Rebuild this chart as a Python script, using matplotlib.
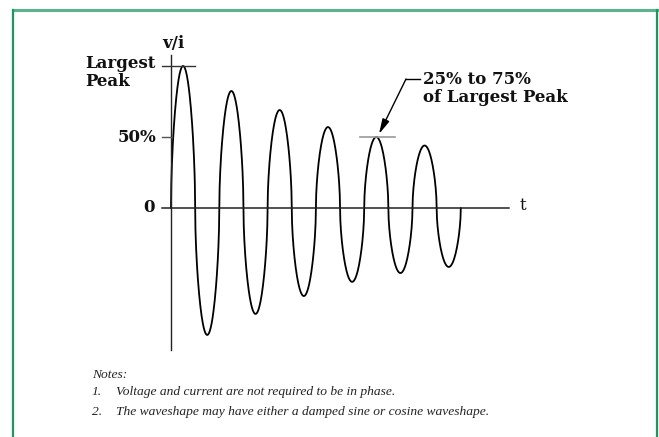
import numpy as np
import matplotlib
matplotlib.use("Agg")
import matplotlib.pyplot as plt
from matplotlib.lines import Line2D

#peak and trough heights, in % of the largest peak, one per cycle
peaks=[100,82.4,69,57,50,44]
troughs=[-89.4,-74.6,-62,-52,-45.8,-41.5]
ytick_vals=[100,50,0]
ytick_labels=["Largest\nPeak","50%","0"]
notes=["Voltage and current are not required to be in phase.",
       "The waveshape may have either a damped sine or cosine waveshape."]

#pixel mapping of the drawing (origin at px 171,208)
W,H=659,437
x0,y0=171,208
ppc=48.3     #px per cycle
ppp=1.42     #px per percent

def dx(px):
    return (px-x0)/ppc
def dy(py):
    return (y0-py)/ppp

fig=plt.figure(figsize=(W/100,H/100),dpi=100)
ax=fig.add_axes([0,0,1,1])
ax.set_xlim(dx(0),dx(W))
ax.set_ylim(dy(H),dy(0))
ax.set_axis_off()

#green frame
fig.add_artist(Line2D([13/W,657/W],[1-9.5/H,1-9.5/H],color="#5ab58a",lw=2.2))
fig.add_artist(Line2D([13/W,13/W],[0,1-9.5/H],color="#1a9a5a",lw=1.6))
fig.add_artist(Line2D([657/W,657/W],[0,1-9.5/H],color="#1a9a5a",lw=1.6))

#waveform: each half cycle is a rounded lobe with its own height
t_all=[]
v_all=[]
for i in range(len(peaks)):
    for half,amp in ((0,peaks[i]),(1,troughs[i])):
        tt=np.linspace(0,0.5,80)
        t_all.append(i+half*0.5+tt)
        v_all.append(amp*np.abs(np.sin(2*np.pi*tt))**0.55)
t_all=np.concatenate(t_all)
v_all=np.concatenate(v_all)
ax.plot(t_all,v_all,color="black",lw=1.3,solid_capstyle="round")

#axes
ax.plot([0,0],[-100,dy(55)],color="#222222",lw=1.0)
ax.plot([dx(162),dx(509)],[0,0],color="#222222",lw=1.1)
ax.plot([dx(162),dx(195)],[100,100],color="#333333",lw=1.0)
ax.plot([dx(162),dx(172)],[50,50],color="#555555",lw=1.0)
ax.plot([dx(360),dx(395)],[peaks[4],peaks[4]],color="#999999",lw=1.2)

mono=dict(family="DejaVu Serif",weight="bold",fontsize=12,color="#111111")
ax.text(dx(173),dy(43),"v/i",ha="center",va="center",**mono)
ax.text(dx(85),dy(64),"Largest",ha="left",va="center",**mono)
ax.text(dx(85),dy(82),"Peak",ha="left",va="center",**mono)
ax.text(dx(156),ytick_vals[1],ytick_labels[1],ha="right",va="center",**mono)
ax.text(dx(155),ytick_vals[2],ytick_labels[2],ha="right",va="center",**mono)
ax.text(dx(520),dy(206),"t",ha="left",va="center",**{**mono,"weight":"normal"})

#callout
ax.text(dx(423),dy(79),"25% to 75%",ha="left",va="center",**mono)
ax.text(dx(423),dy(97),"of Largest Peak",ha="left",va="center",**mono)
ax.plot([dx(406),dx(420)],[dy(79)]*2,color="black",lw=1.0)
ax.annotate("",xy=(dx(379),dy(134)),xytext=(dx(406),dy(79)),
            arrowprops=dict(arrowstyle="-|>,head_length=0.9,head_width=0.22",color="black",lw=1.0,shrinkA=0,shrinkB=0))

#notes
serif=dict(family="Liberation Serif",style="italic",fontsize=9.7,color="#222222")
ax.text(dx(92),dy(375),"Notes:",ha="left",va="center",**serif)
for k,note in enumerate(notes):
    yy=dy(392+20*k)
    ax.text(dx(92),yy,"%d."%(k+1),ha="left",va="center",**serif)
    ax.text(dx(116),yy,note,ha="left",va="center",**serif)

fig.savefig("out.png",dpi=100)
